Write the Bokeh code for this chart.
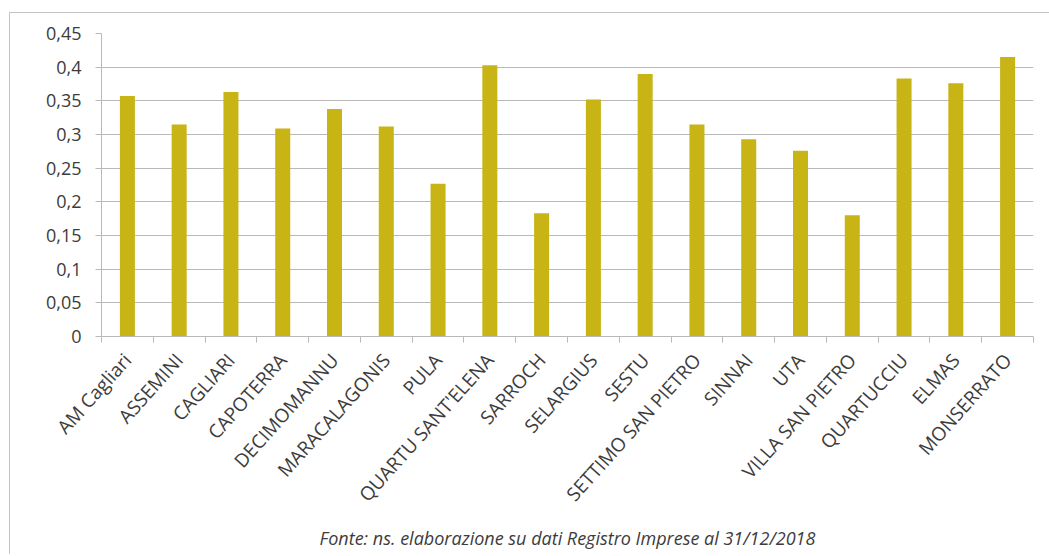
from bokeh.plotting import figure
from bokeh.models import (Range1d, FixedTicker, CustomJSTickFormatter, LinearAxis, Title, Grid)
from bokeh.embed import file_html
from bokeh.resources import INLINE

# Values per municipality
comuni = ["AM Cagliari", "ASSEMINI", "CAGLIARI", "CAPOTERRA", "DECIMOMANNU",
          "MARACALAGONIS", "PULA", "QUARTU SANT'ELENA", "SARROCH", "SELARGIUS",
          "SESTU", "SETTIMO SAN PIETRO", "SINNAI", "UTA", "VILLA SAN PIETRO",
          "QUARTUCCIU", "ELMAS", "MONSERRATO"]
valori = [0.357, 0.315, 0.363, 0.309, 0.338, 0.312, 0.227, 0.403, 0.183, 0.352,
          0.390, 0.315, 0.293, 0.276, 0.180, 0.383, 0.376, 0.415]
y_ticks = [0, 0.05, 0.1, 0.15, 0.2, 0.25, 0.3, 0.35, 0.4, 0.45]
fonte = "Fonte: ns. elaborazione su dati Registro Imprese al 31/12/2018"

n = len(comuni)
centri = [i + 0.5 for i in range(n)]
confini = list(range(n + 1))

GRID = "#b9b9b9"
TXT = "#3c3c3c"
FONT = "Open Sans"

p = figure(width=1040, height=543, frame_width=932, frame_height=303,
           output_backend="svg", toolbar_location=None,
           x_range=Range1d(0, n), y_range=Range1d(0, 0.45),
           min_border_left=91, min_border_right=17, min_border_top=20,
           min_border_bottom=0, x_axis_type=None, y_axis_type=None)
p.styles = {"margin-left": "9px", "margin-top": "12px",
            "border-left": "1px solid #c4c4c4", "border-top": "1px solid #c4c4c4"}
p.outline_line_color = None
p.background_fill_color = "white"
p.border_fill_color = "white"

p.vbar(x=centri, top=valori, width=0.29, fill_color="#C8B415", line_color=None)

# y axis with comma decimals
yax = LinearAxis(ticker=FixedTicker(ticks=y_ticks),
                 formatter=CustomJSTickFormatter(code="""
                     let s = tick.toFixed(2).replace(/0+$/, '').replace(/\\.$/, '');
                     return s.replace('.', ',');"""))
yax.axis_line_color = GRID
yax.major_tick_line_color = GRID
yax.major_tick_out = 6
yax.major_tick_in = 0
yax.minor_tick_line_color = None
yax.major_label_standoff = 14
yax.major_label_text_font = FONT
yax.major_label_text_font_size = "18px"
yax.major_label_text_color = TXT
p.add_layout(yax, "left")

# x axis: labels at bar centres, tick marks between categories
xax = LinearAxis(ticker=FixedTicker(ticks=centri, minor_ticks=confini),
                 formatter=CustomJSTickFormatter(args=dict(names=comuni),
                                                 code="return names[Math.floor(tick)];"))
xax.axis_line_color = GRID
xax.major_tick_line_color = None
xax.major_tick_out = 0
xax.major_tick_in = 0
xax.minor_tick_line_color = GRID
xax.minor_tick_out = 6
xax.minor_tick_in = 0
xax.major_label_orientation = 0.84
xax.major_label_standoff = 14
xax.major_label_text_font = FONT
xax.major_label_text_font_size = "19px"
xax.major_label_text_color = TXT
p.add_layout(xax, "below")

p.add_layout(Grid(dimension=1, ticker=FixedTicker(ticks=y_ticks),
                  grid_line_color=GRID, grid_line_width=1))

p.add_layout(Title(text=fonte, align="center", text_font=FONT,
                   text_font_style="italic", text_font_size="18px",
                   text_color=TXT, standoff=10), "below")

open("out.html", "w").write(file_html(p, INLINE))
